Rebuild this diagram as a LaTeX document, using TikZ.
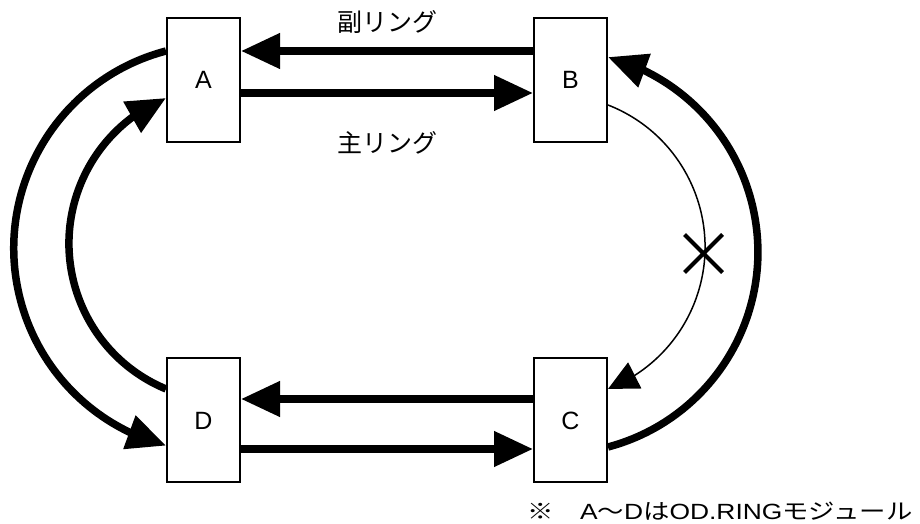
\documentclass[tikz,border=0pt]{standalone}
\usepackage{fontspec}
\setmainfont{Liberation Sans}
\newfontfamily\jpfont{Noto Sans CJK JP}
\usetikzlibrary{arrows.meta,bending,positioning,shapes.misc}

\begin{document}
\begin{tikzpicture}[x=1pt,y=1pt,>={Triangle[length=39pt,width=34pt]},
  module/.style={draw,line width=2pt,minimum width=73pt,minimum height=124pt,inner sep=0pt,font=\fontsize{25}{25}\selectfont},
  ring/.style={line width=7.5pt,->},
  cut/.style={line width=1.5pt,-{Triangle[length=30pt,width=29pt]}},
  lbl/.style={font=\jpfont\fontsize{25}{25}\selectfont,inner sep=0pt}]
\useasboundingbox (0,0) rectangle (920,524);
% modules
\node[module] (A) at (203.5,444) {A};
\node[module,right=292pt of A] (B) {B};
\node[module,below=214.5pt of A] (D) {D};
\node[module,right=292pt of D] (C) {C};
% straight links
\draw[ring] ([yshift=29pt]B.west) -- ([yshift=29pt]A.east);
\draw[ring] ([yshift=-13pt]A.east) -- ([yshift=-13pt]B.west);
\draw[ring] ([yshift=21.5pt]C.west) -- ([yshift=21.5pt]D.east);
\draw[ring] ([yshift=-28.5pt]D.east) -- ([yshift=-28.5pt]C.west);
% loops round the ends
\draw[ring] ([yshift=29pt]A.west) arc[start angle=104.7,end angle=255.3,radius=204];
\draw[ring] ([yshift=31.5pt]D.west) arc[start angle=247.4,end angle=112.6,radius=157.6];
\draw[ring] ([yshift=-26.5pt]C.east) arc[start angle=-75.1,end angle=75.1,radius=201.75];
\draw[cut] ([yshift=-25pt]B.east) arc[start angle=68.7,end angle=-68.7,radius=152.4];
\node[draw,cross out,line width=4pt,minimum size=34pt,inner sep=0pt] (brk) at (703.5,270.5) {};
% labels
\node[lbl] (sub) at (387.5,501.5) {副リング};
\node[lbl] (main) at (387.5,381.5) {主リング};
\node[anchor=west,inner sep=0pt,xscale=1.2,transform shape,font=\fontsize{22}{22}\selectfont] (note) at (527,13)
  {{\jpfont ※}\hspace{22pt}A{\jpfont ～}D{\jpfont は}OD.RING{\jpfont モジュール}};
\end{tikzpicture}
\end{document}
